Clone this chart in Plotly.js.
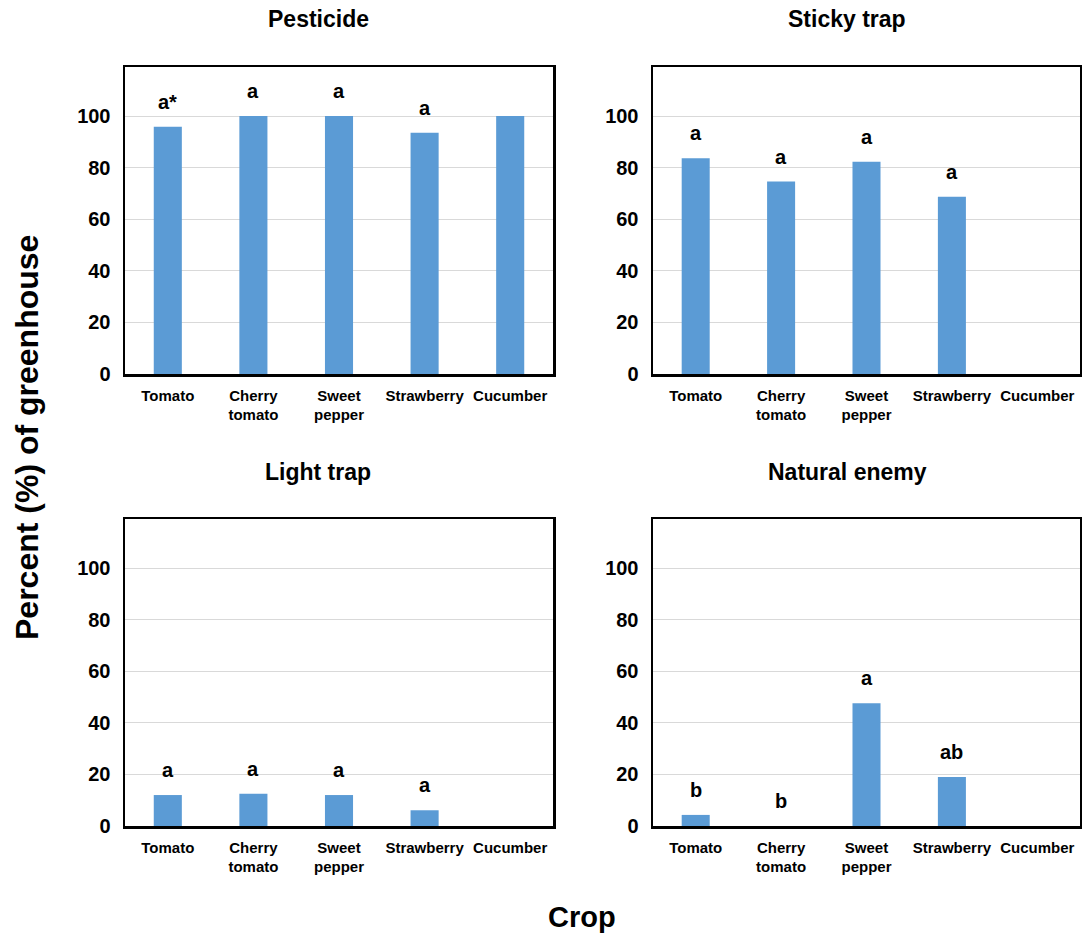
<!DOCTYPE html>
<html>
<head>
<meta charset="utf-8">
<script src="https://cdn.plot.ly/plotly-3.0.1.min.js"></script>
<style>html,body{margin:0;padding:0;background:#fff;}#chart{width:1082px;height:936px;}</style>
</head>
<body>
<div id="chart"></div>
<script>
// ---- data ----
const crops = ["Tomato", "Cherry<br>tomato", "Sweet<br>pepper", "Strawberry", "Cucumber"];
const panelTitles = ["Pesticide", "Sticky trap", "Light trap", "Natural enemy"];
const pesticide    = [95.8, 100, 100, 93.5, 100];
const stickyTrap   = [83.6, 74.6, 82.3, 68.7, 0];
const lightTrap    = [12.0, 12.5, 12.0, 6.1, 0];
const naturalEnemy = [4.3, 0, 47.6, 19.0, 0];
const pesticideLetters    = ["a*", "a", "a", "a", ""];
const stickyTrapLetters   = ["a", "a", "a", "a", ""];
const lightTrapLetters    = ["a", "a", "a", "a", ""];
const naturalEnemyLetters = ["b", "b", "a", "ab", ""];
const yTickVals = [0, 20, 40, 60, 80, 100];

// ---- layout helpers ----
const FONT = "Liberation Sans, Arial, sans-serif";
const barColor = "#5b9bd5";
const series = [pesticide, stickyTrap, lightTrap, naturalEnemy];
const letters = [pesticideLetters, stickyTrapLetters, lightTrapLetters, naturalEnemyLetters];
const W = 1082, H = 936;
const xDomains = [[125/W, 553/W], [653/W, 1080/W]];
const yDomains = [[(H-374)/H, (H-67)/H], [(H-826)/H, (H-519)/H]];

const data = [];
const layout = {
  width: W, height: H,
  margin: {l: 0, r: 0, t: 0, b: 0},
  paper_bgcolor: "#fff", plot_bgcolor: "#fff",
  showlegend: false,
  bargap: 0.672,
  font: {family: FONT, color: "#000"},
  annotations: []
};

series.forEach((vals, i) => {
  const n = i + 1;
  const xa = "x" + (n === 1 ? "" : n), ya = "y" + (n === 1 ? "" : n);
  const col = i % 2, row = Math.floor(i / 2);
  data.push({
    type: "bar", x: crops, y: vals, xaxis: xa, yaxis: ya,
    marker: {color: barColor}, hoverinfo: "x+y"
  });
  layout["xaxis" + (n === 1 ? "" : n)] = {
    domain: xDomains[col], anchor: ya,
    type: "category", categoryorder: "array", categoryarray: crops,
    showline: true, mirror: true, linecolor: "#000", linewidth: 2.5,
    showgrid: false, zeroline: false, ticks: "", tickangle: 0,
    ticklabelstandoff: 6,
    tickfont: {family: FONT, size: 15, weight: "bold", color: "#000"}
  };
  layout["yaxis" + (n === 1 ? "" : n)] = {
    domain: yDomains[row], anchor: xa,
    range: [0, 119], tickvals: yTickVals,
    showline: true, mirror: true, linecolor: "#000", linewidth: 2.5,
    showgrid: true, gridcolor: "#d9d9d9", gridwidth: 1, zeroline: false,
    ticks: "", ticklabelstandoff: 8,
    tickfont: {family: FONT, size: 20, weight: "bold", color: "#000"}
  };
  // significance letters
  letters[i].forEach((t, k) => {
    if (!t) return;
    layout.annotations.push({
      xref: xa, yref: ya, x: crops[k], y: vals[k],
      text: t, showarrow: false, yanchor: "bottom", yshift: 12,
      font: {family: FONT, size: 20, weight: "bold", color: "#000"}
    });
  });
  // panel titles
  layout.annotations.push({
    xref: "paper", yref: "paper",
    x: (col === 0 ? 318 : 847) / W, y: (H - (row === 0 ? 19 : 472)) / H,
    xanchor: "center", yanchor: "middle",
    text: panelTitles[i], showarrow: false,
    font: {family: FONT, size: 23, weight: "bold", color: "#000"}
  });
});

// global axis titles
layout.annotations.push({
  xref: "paper", yref: "paper", x: 27 / W, y: (H - 438) / H,
  xanchor: "center", yanchor: "middle", textangle: -90,
  text: "Percent (%) of greenhouse", showarrow: false,
  font: {family: FONT, size: 32, weight: "bold", color: "#000"}
});
layout.annotations.push({
  xref: "paper", yref: "paper", x: 582 / W, y: (H - 917) / H,
  xanchor: "center", yanchor: "middle",
  text: "Crop", showarrow: false,
  font: {family: FONT, size: 29, weight: "bold", color: "#000"}
});

Plotly.newPlot("chart", data, layout, {displayModeBar: false, staticPlot: true});
</script>
</body>
</html>
